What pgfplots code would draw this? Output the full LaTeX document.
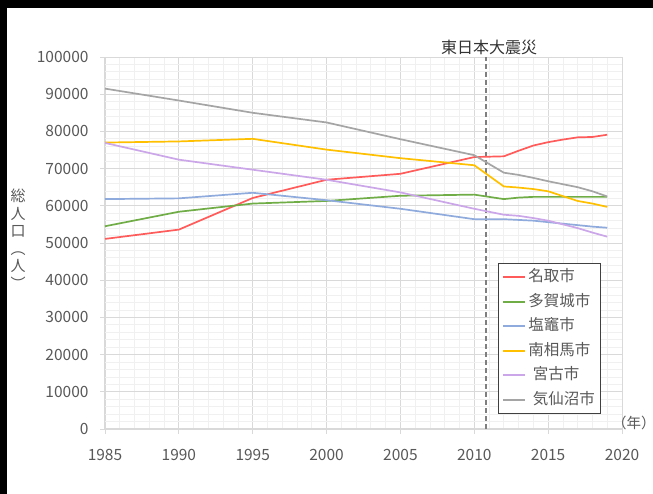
\documentclass[border=0pt]{standalone}
\usepackage{fontspec}
\setmainfont{Noto Sans CJK JP}
\usepackage{pgfplots}
\pgfplotsset{compat=1.18}

\definecolor{cred}{HTML}{FF5B5B}
\definecolor{cgreen}{HTML}{70AD47}
\definecolor{cblue}{HTML}{8FAADC}
\definecolor{cyellow}{HTML}{FFC000}
\definecolor{cpurple}{HTML}{CBA6E8}
\definecolor{cgray}{HTML}{A5A5A5}
\definecolor{txt}{HTML}{595959}
\definecolor{gridmaj}{HTML}{D9D9D9}
\definecolor{gridmin}{HTML}{F0F0F0}
\definecolor{legc}{HTML}{404040}
\definecolor{dashc}{HTML}{7F7F7F}

\begin{document}
\begin{tikzpicture}
\fill[white] (0,0) rectangle (653pt,494pt);
\fill[black] (0,486pt) rectangle (653pt,494pt);
\fill[black] (0,0) rectangle (7pt,494pt);
\begin{axis}[
  at={(105pt,65pt)}, anchor=south west,
  scale only axis, width=517pt, height=372pt,
  xmin=1985, xmax=2020, ymin=0, ymax=100000,
  xtick={1985,1990,...,2020}, ytick={0,10000,...,100000},
  minor x tick num=4, minor y tick num=4,
  grid=both,
  major grid style={draw=gridmaj, line width=0.9pt},
  minor grid style={draw=gridmin, line width=0.8pt},
  axis lines=left, axis line style={-, draw=gridmaj, line width=1pt},
  tick align=outside, major tick length=5pt, minor tick length=0pt,
  tick style={draw=gridmaj, line width=0.9pt},
  scaled y ticks=false,
  tick label style={font=\fontsize{15.5}{18}\selectfont, text=txt,
    /pgf/number format/fixed, /pgf/number format/1000 sep={},
    /pgf/number format/assume math mode=true},
  xticklabel style={yshift=-12pt},
  yticklabel style={xshift=-8pt},
  clip=false,
  legend cell align=left,
  legend image code/.code={\draw[#1, line width=2pt] (0pt,0pt) -- (22pt,0pt);},
  legend style={at={(0.760,0.446)}, anchor=north west, draw=legc, line width=1pt,
    font=\fontsize{15.5}{18}\selectfont, text=txt, row sep=5pt,
    inner xsep=4pt, inner ysep=4pt,
    nodes={text height=12pt, text depth=3.5pt, inner ysep=2pt}},
]
\addplot[draw=dashc, line width=1.5pt, dash pattern=on 5pt off 3pt, forget plot]
  coordinates {(2010.8,0) (2010.8,100000)};
\addplot[cred, line width=1.7pt] coordinates {
  (1985,51100) (1990,53600) (1995,62100) (2000,67000) (2005,68600) (2010,73100)
  (2012,73300) (2013,74800) (2014,76200) (2015,77100) (2016,77800) (2017,78400)
  (2018,78500) (2019,79100)};
\addlegendentry{名取市}
\addplot[cgreen, line width=1.7pt] coordinates {
  (1985,54500) (1990,58400) (1995,60600) (2000,61300) (2005,62700) (2010,63000)
  (2012,61800) (2013,62200) (2014,62400) (2015,62400) (2016,62400) (2017,62400)
  (2018,62400) (2019,62400)};
\addlegendentry{多賀城市}
\addplot[cblue, line width=1.7pt] coordinates {
  (1985,61800) (1990,62000) (1995,63500) (2000,61500) (2005,59200) (2010,56400)
  (2012,56400) (2013,56200) (2014,56000) (2015,55600) (2016,55200) (2017,54800)
  (2018,54400) (2019,54100)};
\addlegendentry{塩竈市}
\addplot[cyellow, line width=1.7pt] coordinates {
  (1985,77000) (1990,77300) (1995,78000) (2000,75100) (2005,72800) (2010,70900)
  (2012,65200) (2013,64900) (2014,64500) (2015,63900) (2016,62600) (2017,61300)
  (2018,60600) (2019,59700)};
\addlegendentry{南相馬市}
\addplot[cpurple, line width=1.7pt] coordinates {
  (1985,76900) (1990,72400) (1995,69700) (2000,67000) (2005,63600) (2010,59200)
  (2012,57600) (2013,57300) (2014,56700) (2015,56000) (2016,55000) (2017,54000)
  (2018,52800) (2019,51700)};
\addlegendentry{\hspace{4.5pt}宮古市}
\addplot[cgray, line width=1.7pt] coordinates {
  (1985,91500) (1990,88300) (1995,85000) (2000,82400) (2005,77900) (2010,73600)
  (2012,68900) (2013,68300) (2014,67500) (2015,66600) (2016,65800) (2017,65000)
  (2018,63900) (2019,62500)};
\addlegendentry{\hspace{4.5pt}気仙沼市}
\node[anchor=south, xshift=3pt, yshift=1pt, inner sep=1pt, text=black!80,
  font=\fontsize{16}{18}\selectfont] at (axis cs:2010.8,100000) {東日本大震災};
\node[anchor=west, xshift=-10pt, yshift=6pt, inner sep=0pt, text=txt,
  font=\fontsize{14.5}{18}\selectfont] at (rel axis cs:1,0)
  {（年\makebox[0.45em][l]{）}};
\node[align=center, text=txt, font=\fontsize{15}{17.5}\selectfont]
  at (rel axis cs:-0.168,0.51) {総\\人\\口\\︵\\人\\︶};
\end{axis}
\pgfresetboundingbox
\path[use as bounding box] (0,0) rectangle (653pt,494pt);
\end{tikzpicture}
\end{document}
